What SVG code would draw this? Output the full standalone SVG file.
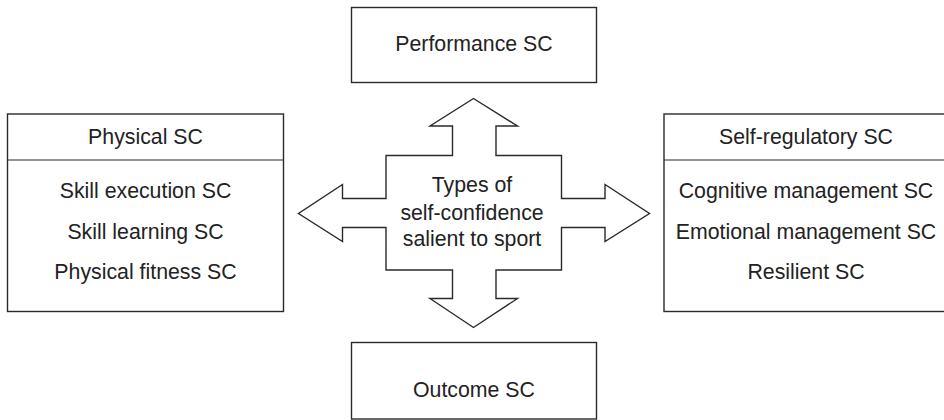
<svg xmlns="http://www.w3.org/2000/svg" width="944" height="420" viewBox="0 0 944 420">
<style>
.box{fill:#fff;stroke:#2a2a2a;stroke-width:1.4}
.ln{stroke:#2a2a2a;stroke-width:1.2}
text{font-family:"Liberation Sans",Arial,sans-serif;font-size:21.3px;fill:#222;text-anchor:middle}
</style>
<rect width="944" height="420" fill="#fff"/>
<g id="connectors">
<path class="box" d="M473.5,98.5 L517.5,126 L496,126 L496,155.5 L561.5,155.5 L561.5,198.5 L605,198.5 L605,184.5 L649.5,213.5 L605,241.5 L605,227.5 L561.5,227.5 L561.5,270 L496,270 L496,298.5 L517.5,298.5 L473.5,327.5 L430,298.5 L452.5,298.5 L452.5,270 L386,270 L386,227.5 L342.5,227.5 L342.5,241.5 L298.5,213.5 L342.5,184.5 L342.5,198.5 L386,198.5 L386,155.5 L452.5,155.5 L452.5,126 L430,126 Z"/>
</g>
<g id="center">
<text x="472" y="192">Types of</text>
<text x="472" y="220">self-confidence</text>
<text x="472" y="246">salient to sport</text>
</g>
<g id="performance">
<rect class="box" x="351.5" y="7.5" width="245" height="75"/>
<text x="474" y="51">Performance SC</text>
</g>
<g id="outcome">
<rect class="box" x="351.5" y="342.5" width="245" height="76.5"/>
<text x="474" y="397">Outcome SC</text>
</g>
<g id="physical">
<rect class="box" x="7.5" y="114" width="276" height="197.5"/>
<line class="ln" x1="7.5" y1="160" x2="283.5" y2="160"/>
<text x="145.5" y="143.5">Physical SC</text>
<text x="145.5" y="197.5">Skill execution SC</text>
<text x="145.5" y="239">Skill learning SC</text>
<text x="145.5" y="278.5">Physical fitness SC</text>
</g>
<g id="selfregulatory">
<rect class="box" x="664" y="114" width="290" height="197.5"/>
<line class="ln" x1="664" y1="160" x2="944" y2="160"/>
<text x="806" y="143.5">Self-regulatory SC</text>
<text x="806" y="197.5">Cognitive management SC</text>
<text x="806" y="238.5">Emotional management SC</text>
<text x="806" y="278.5">Resilient SC</text>
</g>
</svg>
